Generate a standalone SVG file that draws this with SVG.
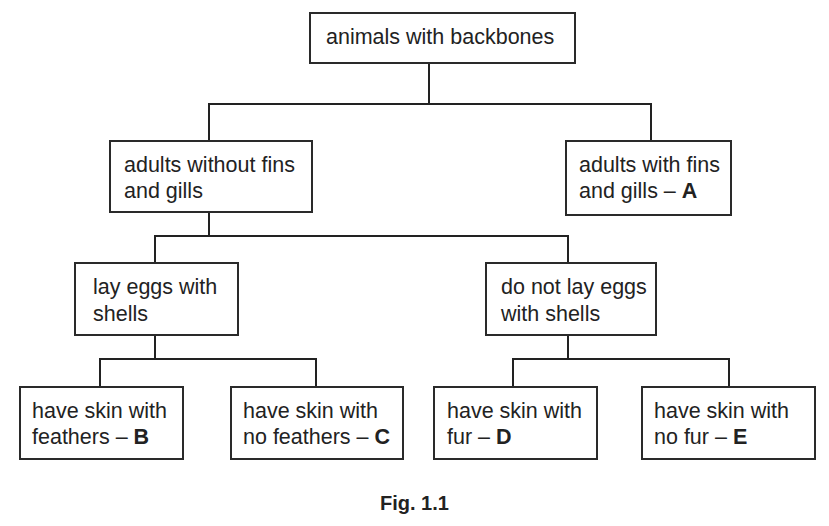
<svg xmlns="http://www.w3.org/2000/svg" width="829" height="526" viewBox="0 0 829 526">
<style>
rect{fill:#fff;stroke:#2a2a2a;stroke-width:2}
text{font-family:"Liberation Sans",Arial,sans-serif;font-size:21.5px;fill:#222}
.c path{fill:none;stroke:#222;stroke-width:2}
</style>
<rect x="0" y="0" width="829" height="526" style="stroke:none"/>
<g class="c" id="connectors">
<path d="M429 63V104M209 141V104H651V141"/>
<path d="M209 212V236M155 263V236H568V263"/>
<path d="M155 335V359M100 387V359H316V387"/>
<path d="M568 335V359M513 387V359H729V387"/>
</g>
<g id="root"><rect x="310" y="13" width="265" height="50"/><text x="326" y="44">animals with backbones</text></g>
<g id="nofins"><rect x="110" y="141" width="202" height="71"/><text x="124" y="172">adults without fins</text><text x="124" y="198">and gills</text></g>
<g id="fins"><rect x="566" y="141" width="165" height="74"/><text x="579" y="172">adults with fins</text><text x="579" y="198">and gills – <tspan font-weight="bold">A</tspan></text></g>
<g id="eggs"><rect x="75" y="263" width="163" height="72"/><text x="93" y="294">lay eggs with</text><text x="93" y="321">shells</text></g>
<g id="noeggs"><rect x="486" y="263" width="170" height="72"/><text x="501" y="294">do not lay eggs</text><text x="501" y="321">with shells</text></g>
<g id="B"><rect x="20" y="387" width="163" height="72"/><text x="32" y="418">have skin with</text><text x="32" y="444">feathers – <tspan font-weight="bold">B</tspan></text></g>
<g id="C"><rect x="231" y="387" width="172" height="72"/><text x="243" y="418">have skin with</text><text x="243" y="444">no feathers – <tspan font-weight="bold">C</tspan></text></g>
<g id="D"><rect x="434" y="387" width="163" height="72"/><text x="447" y="418">have skin with</text><text x="447" y="444">fur – <tspan font-weight="bold">D</tspan></text></g>
<g id="E"><rect x="642" y="387" width="173" height="72"/><text x="654" y="418">have skin with</text><text x="654" y="444">no fur – <tspan font-weight="bold">E</tspan></text></g>
<text x="380" y="510" font-weight="bold" style="font-size:20px">Fig. 1.1</text>
</svg>
